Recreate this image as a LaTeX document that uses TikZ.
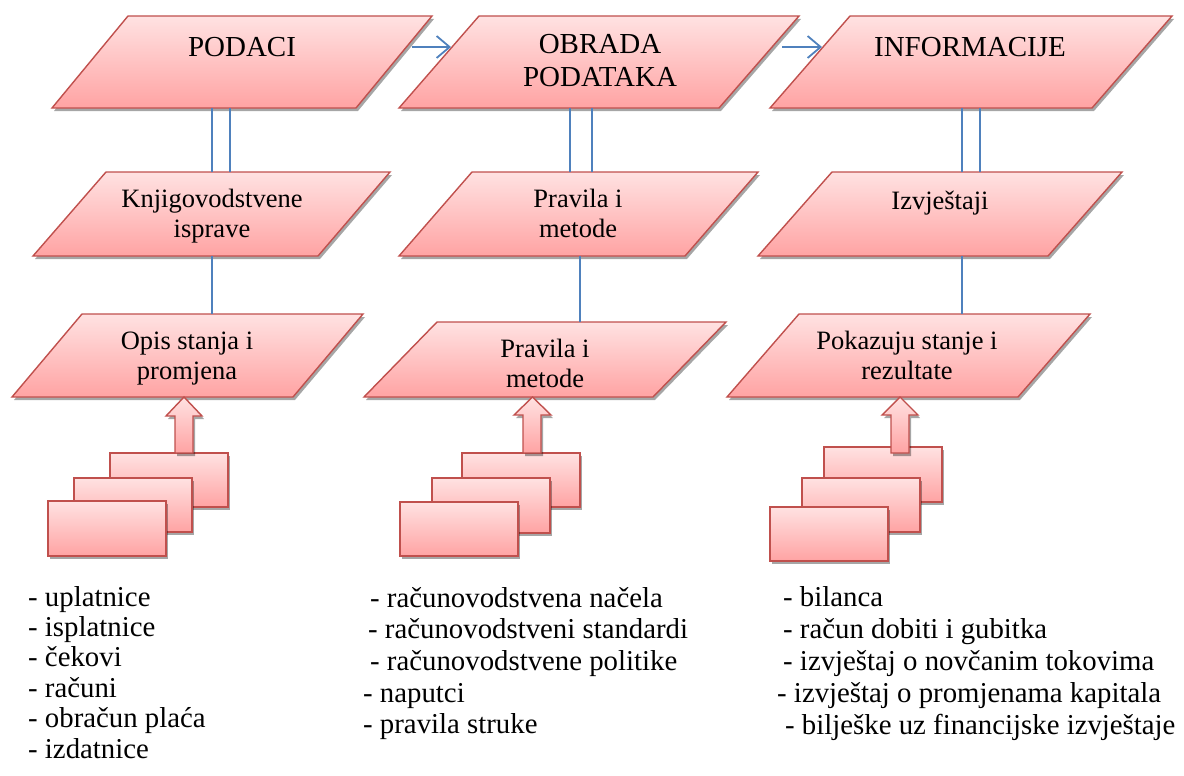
\documentclass[tikz,border=0pt]{standalone}
\usepackage{fontspec}
\setmainfont{Liberation Serif}
\usetikzlibrary{shadows,arrows.meta}
\definecolor{bord}{RGB}{192,80,77}
\definecolor{ptop}{RGB}{255,226,226}
\definecolor{pbot}{RGB}{255,163,163}
\definecolor{lblue}{RGB}{79,129,189}
\tikzset{
 shp/.style={draw=bord, line width=1.4pt, top color=ptop, bottom color=pbot, line join=miter,
   drop shadow={shadow xshift=2pt, shadow yshift=-3pt, fill=black, opacity=0.35}},
 conn/.style={draw=lblue, line width=1.8pt},
 flow/.style={conn, -{Straight Barb[length=13pt,width=22pt,line width=1.8pt]}},
 ttl/.style={font=\fontsize{29}{33}\selectfont, anchor=base, inner sep=0pt},
 lbl/.style={font=\fontsize{26.5}{30}\selectfont, anchor=base, inner sep=0pt},
 lst/.style={font=\fontsize{28.8}{31}\selectfont, anchor=base west, inner sep=0pt},
}
\newcommand\parabox[8]{\path[shp] (#1,#5) -- (#2,#5) -- (#4,#6) -- (#3,#6) -- cycle;}
\newcommand\blockarrow[8]{\path[shp] (#1,#2) -- (#4,#3) -- (#6,#3) -- (#6,#7) -- (#5,#7) -- (#5,#3) -- (#8,#3) -- cycle;}
\begin{document}
\begin{tikzpicture}[x=1pt,y=-1pt]
\useasboundingbox (0,0) rectangle (1184,776);
% row 1
\parabox{52}{356}{128}{432}{108}{16}{}{}
\parabox{399}{719}{479}{799}{108}{16}{}{}
\parabox{770}{1092}{850}{1172}{108}{16}{}{}
% row 2
\parabox{33}{318}{106}{390}{256}{172}{}{}
\parabox{399}{685}{472}{758}{256}{172}{}{}
\parabox{758}{1048}{832}{1122}{256}{172}{}{}
% row 3
\parabox{12}{293}{82}{363}{397}{314}{}{}
\parabox{364}{653}{437}{726}{397}{322}{}{}
\parabox{727}{1018}{799}{1090}{397}{314}{}{}
% stacked rectangles
\path[shp] (110,453) rectangle (228,507);
\path[shp] (74,478) rectangle (192,532);
\path[shp] (48,501) rectangle (166,556);
\path[shp] (462,453) rectangle (580,507);
\path[shp] (432,478) rectangle (550,533);
\path[shp] (400,502) rectangle (518,556);
\path[shp] (824,447) rectangle (942,502);
\path[shp] (802,478) rectangle (920,532);
\path[shp] (770,507) rectangle (888,561);
% block arrows: tip x, tip y, base y, head right, shaft left, shaft right, bottom, head left
\blockarrow{184}{397}{416}{202}{175}{193}{453}{166}
\blockarrow{532.5}{397}{415}{551}{523}{541}{453}{514}
\blockarrow{900}{397}{415}{918}{891}{909}{453}{882}
% titles
\node[ttl] (podaci) at (242,57) {PODACI};
\node[ttl] (obrada1) at (600,54) {OBRADA};
\node[ttl] (obrada2) at (600,87) {PODATAKA};
\node[ttl] (inform) at (970,57) {INFORMACIJE};
% row 2 labels
\node[lbl] (knj1) at (212,207) {Knjigovodstvene};
\node[lbl] (knj2) at (212,237) {isprave};
\node[lbl] (pm1) at (578,207) {Pravila i};
\node[lbl] (pm2) at (578,237) {metode};
\node[lbl] (izv) at (940,209) {Izvještaji};
% row 3 labels
\node[lbl] (opis1) at (187,349) {Opis stanja i};
\node[lbl] (opis2) at (187,379) {promjena};
\node[lbl] (pr1) at (545,357) {Pravila i};
\node[lbl] (pr2) at (545,387) {metode};
\node[lbl] (pok1) at (907,349) {Pokazuju stanje i};
\node[lbl] (pok2) at (907,379) {rezultate};
% connector coordinates
\coordinate (a1s) at (412,47); \coordinate (a1e) at (451,47);
\coordinate (a2s) at (782,47); \coordinate (a2e) at (822,47);
\coordinate (d1a) at (212,108); \coordinate (d1b) at (212,172);
\coordinate (d1c) at (230,108); \coordinate (d1d) at (230,172);
\coordinate (d2a) at (570,108); \coordinate (d2b) at (570,172);
\coordinate (d2c) at (592,108); \coordinate (d2d) at (592,172);
\coordinate (d3a) at (962,108); \coordinate (d3b) at (962,172);
\coordinate (d3c) at (980,108); \coordinate (d3d) at (980,172);
\coordinate (s1a) at (212,256); \coordinate (s1b) at (212,314);
\coordinate (s2a) at (580,256); \coordinate (s2b) at (580,322);
\coordinate (s3a) at (962,256); \coordinate (s3b) at (962,314);
\draw[flow] (a1s) -- (a1e);
\draw[flow] (a2s) -- (a2e);
\draw[conn] (d1a) -- (d1b); \draw[conn] (d1c) -- (d1d);
\draw[conn] (d2a) -- (d2b); \draw[conn] (d2c) -- (d2d);
\draw[conn] (d3a) -- (d3b); \draw[conn] (d3c) -- (d3d);
\draw[conn] (s1a) -- (s1b);
\draw[conn] (s2a) -- (s2b);
\draw[conn] (s3a) -- (s3b);
% lists
\node[lst] (l11) at (28,606) {- uplatnice};
\node[lst] (l12) at (28,636.4) {- isplatnice};
\node[lst] (l13) at (28,666.8) {- čekovi};
\node[lst] (l14) at (28,697.2) {- računi};
\node[lst] (l15) at (28,727.6) {- obračun plaća};
\node[lst] (l16) at (28,758) {- izdatnice};
\node[lst] (l21) at (370,607) {- računovodstvena načela};
\node[lst] (l22) at (368,638.7) {- računovodstveni standardi};
\node[lst] (l23) at (370,670.4) {- računovodstvene politike};
\node[lst] (l24) at (363,702) {- naputci};
\node[lst] (l25) at (363,733.7) {- pravila struke};
\node[lst] (l31) at (783,606) {- bilanca};
\node[lst] (l32) at (783,638) {- račun dobiti i gubitka};
\node[lst] (l33) at (783,670) {- izvještaj o novčanim tokovima};
\node[lst] (l34) at (777,702) {- izvještaj o promjenama kapitala};
\node[lst] (l35) at (785,734) {- bilješke uz financijske izvještaje};
\end{tikzpicture}
\end{document}
